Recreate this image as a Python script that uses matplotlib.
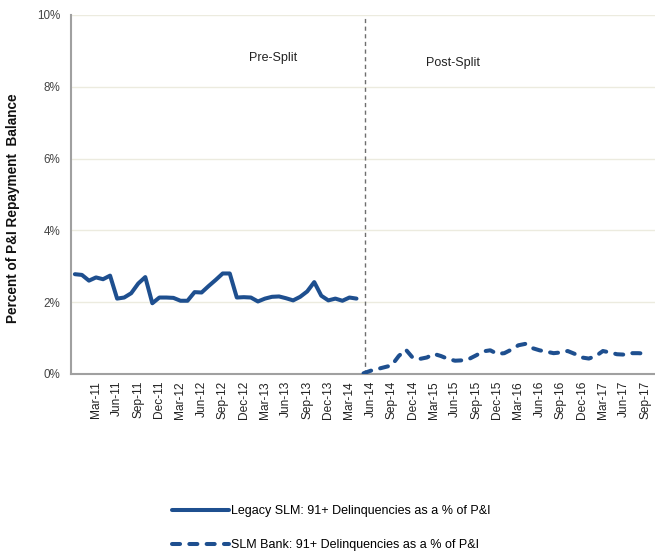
import matplotlib
matplotlib.use("Agg")
import matplotlib.pyplot as plt
from matplotlib.ticker import FuncFormatter

plt.rcParams['font.family'] = ['Liberation Sans', 'DejaVu Sans']

# Month index 0 = Dec-10 ... 81 = Sep-17
legacy_start = 0
legacy_values = [2.78, 2.76, 2.60, 2.69, 2.64, 2.74, 2.10, 2.13, 2.25, 2.52,
                 2.70, 1.97, 2.13, 2.13, 2.12, 2.04, 2.04, 2.28, 2.27, 2.45,
                 2.62, 2.80, 2.80, 2.13, 2.14, 2.13, 2.02, 2.10, 2.15, 2.16,
                 2.11, 2.05, 2.15, 2.30, 2.56, 2.18, 2.05, 2.10, 2.04, 2.13,
                 2.10]
bank_start = 41
bank_values = [0.02, 0.09, 0.14, 0.19, 0.24, 0.50, 0.68, 0.45, 0.42, 0.46,
               0.56, 0.50, 0.42, 0.37, 0.38, 0.42, 0.52, 0.63, 0.66, 0.56,
               0.58, 0.68, 0.80, 0.84, 0.72, 0.66, 0.62, 0.58, 0.60, 0.64,
               0.56, 0.46, 0.43, 0.50, 0.64, 0.60, 0.55, 0.54, 0.58, 0.58,
               0.57]
tick_labels = ["Mar-11", "Jun-11", "Sep-11", "Dec-11", "Mar-12", "Jun-12", "Sep-12",
               "Dec-12", "Mar-13", "Jun-13", "Sep-13", "Dec-13", "Mar-14", "Jun-14",
               "Sep-14", "Dec-14", "Mar-15", "Jun-15", "Sep-15", "Dec-15", "Mar-16",
               "Jun-16", "Sep-16", "Dec-16", "Mar-17", "Jun-17", "Sep-17"]
tick_first = 3
tick_step = 3
split_x = 41.2
y_ticks = [0, 2, 4, 6, 8, 10]

legacy_label = "Legacy SLM: 91+ Delinquencies as a % of P&I"
bank_label = "SLM Bank: 91+ Delinquencies as a % of P&I"

color = "#1e4f8f"

fig = plt.figure(figsize=(6.55, 5.53), dpi=100)
ax = fig.add_axes([0.1084, 0.3237, 0.8916, 0.6492])

lx = list(range(legacy_start, legacy_start + len(legacy_values)))
bx = list(range(bank_start, bank_start + len(bank_values)))
ax.plot(lx, legacy_values, color=color, lw=2.9, solid_capstyle='round',
        solid_joinstyle='round', label=legacy_label, zorder=3)
ax.plot(bx, bank_values, color=color, lw=2.9, dash_capstyle='round',
        linestyle=(0, (2.0, 2.3)), label=bank_label, zorder=3)

ax.axvline(split_x, color="#6e6e6e", lw=1.0, linestyle=(0, (3, 2.5)), zorder=2)

ax.set_xlim(-0.55, 82.4)
ax.set_ylim(0, 10)
ax.set_yticks(y_ticks)
ax.yaxis.set_major_formatter(FuncFormatter(lambda v, p: f"{v:.0f}%"))
ticks = [tick_first + tick_step * k for k in range(len(tick_labels))]
ax.set_xticks(ticks)
ax.set_xticklabels(tick_labels, rotation=90, fontsize=8.6, color="#222222")
ax.tick_params(axis='x', length=0, pad=5)
ax.tick_params(axis='y', length=0, pad=7.5, labelsize=8.4, labelcolor="#444444")

ax.grid(axis='y', color="#ecebdf", lw=1.0, zorder=0)
ax.set_axisbelow(True)
for s in ['top', 'right']:
    ax.spines[s].set_visible(False)
for s in ['left', 'bottom']:
    ax.spines[s].set_color("#a0a0a0")
    ax.spines[s].set_linewidth(1.5)

fig.text(13 / 655, 1 - 208 / 553, "Percent of P&I Repayment  Balance", rotation=90,
         ha='center', va='center', fontsize=9.8, fontweight='bold', color="#111111")

ax.text(28.1, 8.8, "Pre-Split", ha='center', va='center', fontsize=9, color="#222222")
ax.text(53.7, 8.66, "Post-Split", ha='center', va='center', fontsize=9, color="#222222")

fig.legend(loc='upper left', bbox_to_anchor=(0.262, 0.0868), frameon=False,
           fontsize=9, handlelength=4.6, handletextpad=0.15, labelspacing=1.78,
           borderaxespad=0, borderpad=0)

fig.savefig("out.png", dpi=100)
